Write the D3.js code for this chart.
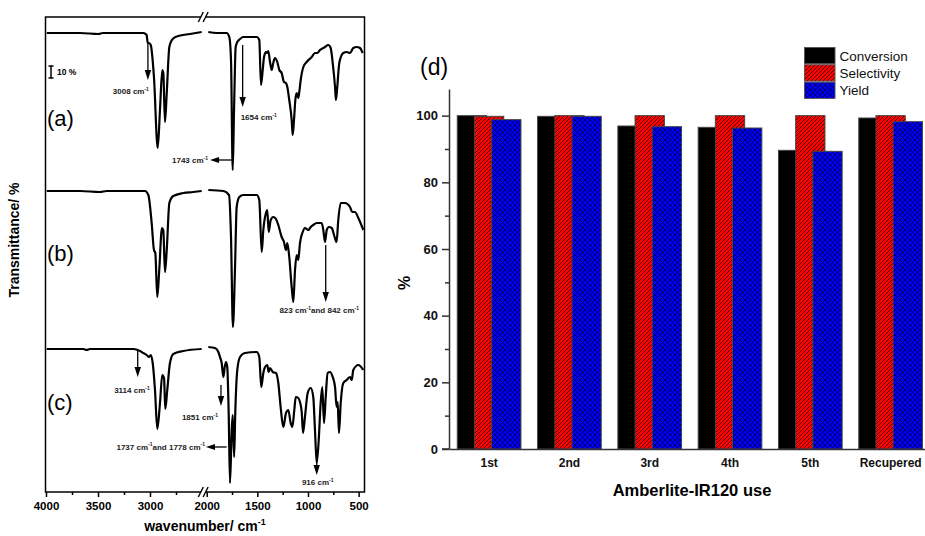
<!DOCTYPE html>
<html><head><meta charset="utf-8">
<script src="https://cdn.jsdelivr.net/npm/d3@7"></script>
<style>body{margin:0;background:#fff} text{font-family:"Liberation Sans",Arial,sans-serif}</style>
</head><body><svg id="c" width="925" height="536"></svg>
<script>
// ---------- DATA: FTIR spectra [wavenumber cm-1, offset transmittance (a.u.)] ----------
const spectrumA = [
[3993,459],[3673,459],[3497,458],[3452,459],[3064,459],[3032,457],[3022,449],[3010,449],[2993,447],[2962,415],[2926,344],[2904,382],[2882,422],[2872,419],[2856,370],[2839,399],[2814,445],[2782,453],[2728,456],[2615,458],[2503,460],
[1984,460],[1901,459],[1803,459],[1777,455],[1760,432],[1743,322],[1730,382],[1714,445],[1698,450],[1671,453],[1639,455],[1506,455],[1481,452],[1464,407],[1447,422],[1434,435],[1415,440],[1402,439],[1392,441],[1375,430],[1358,422],[1343,429],[1326,434],[1303,430],[1283,422],[1260,419],[1237,410],[1218,409],[1204,405],[1185,392],[1161,372],[1151,357],[1138,372],[1125,392],[1112,399],[1096,394],[1086,400],[1072,412],[1046,425],[1013,430],[963,435],[931,439],[908,439],[882,442],[832,445],[800,447],[776,444],[756,429],[733,405],[724,392],[711,405],[691,429],[652,439],[618,440],[585,439],[553,444],[519,445],[487,444],[460,439]
];
const spectrumB = [
[3993,301],[3673,301],[3481,300],[3416,301],[3048,301],[3016,297],[2984,269],[2962,242],[2949,239],[2930,195],[2911,222],[2885,264],[2872,262],[2856,220],[2839,242],[2814,289],[2776,296],[2680,299],[2584,300],[2503,301],
[1984,302],[1836,301],[1780,297],[1760,255],[1741,165],[1721,222],[1704,285],[1678,295],[1639,297],[1506,297],[1481,292],[1457,240],[1441,262],[1415,279],[1402,282],[1388,260],[1368,272],[1343,275],[1316,273],[1293,267],[1260,255],[1237,250],[1218,242],[1204,249],[1185,235],[1161,205],[1145,190],[1128,222],[1112,237],[1096,232],[1079,249],[1052,260],[1030,264],[997,262],[973,265],[948,267],[914,269],[865,269],[849,262],[832,250],[815,262],[793,265],[766,264],[737,255],[718,250],[701,272],[677,289],[635,289],[585,285],[563,280],[536,280],[503,274],[454,262]
];
const spectrumC = [
[3993,143],[3641,143],[3609,142],[3577,143],[3161,143],[3096,141],[3064,139],[3032,137],[3010,135],[2993,137],[2974,129],[2952,102],[2930,63],[2904,89],[2882,117],[2865,114],[2853,83],[2834,102],[2808,129],[2776,138],[2680,141],[2503,143],
[1984,145],[1918,144],[1885,140],[1869,135],[1852,129],[1836,115],[1822,125],[1809,130],[1797,125],[1783,79],[1770,9],[1753,62],[1743,77],[1729,35],[1718,79],[1698,122],[1671,135],[1622,139],[1506,140],[1481,135],[1461,105],[1441,119],[1424,125],[1402,127],[1388,120],[1375,124],[1348,120],[1316,119],[1293,109],[1270,85],[1244,65],[1217,79],[1194,82],[1171,69],[1155,65],[1135,82],[1121,95],[1096,94],[1079,90],[1062,80],[1049,59],[1030,75],[1003,99],[973,104],[948,95],[931,62],[914,29],[894,52],[875,89],[859,105],[842,69],[825,95],[806,119],[783,120],[756,115],[733,105],[717,85],[707,90],[694,59],[677,89],[651,109],[618,112],[585,115],[568,112],[553,122],[503,127],[454,122]
];
const wnMajorHigh = [4000, 3500, 3000];
const wnMinorHigh = [3750, 3250, 2750];
const wnMajorLow = [2000, 1500, 1000, 500];
const wnMinorLow = [1750, 1250, 750];
const scaleBarUnits = 12;   // length of the "10 %" bar in a.u.

// ---------- DATA: catalyst reuse ----------
const categories = ["1st", "2nd", "3rd", "4th", "5th", "Recupered"];
const seriesNames = ["Conversion", "Selectivity", "Yield"];
const conversion = [100, 99.8, 96.9, 96.5, 89.6, 99.3];
const selectivity = [99.8, 100, 100, 100, 100, 100];
const yieldValues = [98.8, 99.8, 96.7, 96.3, 89.3, 98.2];
const barMajorTicks = [0, 20, 40, 60, 80, 100];
const barMinorTicks = [10, 30, 50, 70, 90];

// ---------- DRAW ----------
const svg = d3.select("#c");
const defs = svg.append("defs");
const pr = defs.append("pattern").attr("id","hatchR").attr("patternUnits","userSpaceOnUse").attr("width",4).attr("height",4);
pr.append("rect").attr("width",4).attr("height",4).attr("fill","#ff0000");
pr.append("path").attr("d","M-1,1 l2,-2 M0,4 l4,-4 M3,5 l2,-2").attr("stroke","#000").attr("stroke-width",0.7);
const pb = defs.append("pattern").attr("id","hatchB").attr("patternUnits","userSpaceOnUse").attr("width",5).attr("height",5);
pb.append("rect").attr("width",5).attr("height",5).attr("fill","#0000ff");
pb.append("path").attr("d","M-1,1 l2,-2 M0,5 l5,-5 M4,6 l2,-2 M-1,4 l2,2 M0,0 l5,5 M4,-1 l2,2").attr("stroke","#000").attr("stroke-width",0.6);

// Left panel
const xHigh = d3.scaleLinear().domain([4000, 2500]).range([46, 202]);
const xLow = d3.scaleLinear().domain([2000, 450]).range([206.7, 363.7]);
const y = d3.scaleLinear().domain([0, 475]).range([492, 17]);
const L = svg.append("g");
L.append("rect").attr("x",45.5).attr("y",17).attr("width",319).attr("height",475)
  .attr("fill","none").attr("stroke","#000").attr("stroke-width",1.5);

function bottomAxis(scale, vals, size, labels) {
  const ax = d3.axisBottom(scale).tickValues(vals).tickSize(size).tickPadding(5)
    .tickFormat(labels ? d3.format("d") : "");
  const g = L.append("g").attr("transform","translate(0,492)").call(ax);
  g.select(".domain").remove();
  g.selectAll("line").attr("stroke","#000").attr("stroke-width",1.5);
  g.selectAll("text").attr("font-size",11.5).attr("font-weight","bold").attr("fill","#000")
    .style("font-family",'"Liberation Sans",Arial,sans-serif');
}
bottomAxis(xHigh, wnMajorHigh, 5, true);
bottomAxis(xHigh, wnMinorHigh, 3, false);
bottomAxis(xLow, wnMajorLow, 5, true);
bottomAxis(xLow, wnMinorLow, 3, false);

const lineGen = s => d3.line().x(d => s(d[0])).y(d => y(d[1])).curve(d3.curveMonotoneX);
[spectrumA, spectrumB, spectrumC].forEach(sp => {
  const hi = sp.filter(d => d[0] > 2250), lo = sp.filter(d => d[0] <= 2250);
  L.append("path").attr("d", lineGen(xHigh)(hi)).attr("fill","none").attr("stroke","#000").attr("stroke-width",2.2);
  L.append("path").attr("d", lineGen(xLow)(lo)).attr("fill","none").attr("stroke","#000").attr("stroke-width",2.2);
});

// axis break marks
[17, 492].forEach(y0 => {
  const a = 200.8, b = 205.6;
  L.append("polygon").attr("points",`${a-2.5},${y0+5} ${a+2.5},${y0-5} ${b+2.5},${y0-5} ${b-2.5},${y0+5}`).attr("fill","#fff");
  [a, b].forEach(cx => L.append("line").attr("x1",cx-2.5).attr("y1",y0+5).attr("x2",cx+2.5).attr("y2",y0-5)
    .attr("stroke","#000").attr("stroke-width",1.4));
});

// panel labels
[["(a)", 126],["(b)", 261],["(c)", 410]].forEach(([t, yy]) =>
  L.append("text").attr("x",47).attr("y",yy).attr("font-size",22).text(t));

// scale bar
const sbY = y(414);
L.append("path").attr("d",`M48.5,${sbY} h5 M51,${sbY} V${y(414+scaleBarUnits)} M48.5,${y(414+scaleBarUnits)} h5`)
  .attr("stroke","#000").attr("stroke-width",1.5).attr("fill","none");
L.append("text").attr("x",57).attr("y",75).attr("font-size",8.5).attr("font-weight","bold").text("10 %");

// annotations
function vArrow(x, v0, v1) {
  const y0 = y(v0), y1 = y(v1);
  L.append("line").attr("x1",x).attr("x2",x).attr("y1",y0).attr("y2",y1-8).attr("stroke","#000").attr("stroke-width",1.3);
  L.append("path").attr("d",`M${x-3.2},${y1-10} L${x+3.2},${y1-10} L${x},${y1} Z`).attr("fill","#000");
}
function hArrow(x0, x1, v) {
  const yy = y(v);
  L.append("line").attr("x1",x0).attr("x2",x1+7).attr("y1",yy).attr("y2",yy).attr("stroke","#000").attr("stroke-width",1.3);
  L.append("path").attr("d",`M${x1+9},${yy-3} L${x1+9},${yy+3} L${x1},${yy} Z`).attr("fill","#000");
}
// parts: array of [text, isSuperscript]
function note(x, yy, anchor, parts) {
  const t = L.append("text").attr("x",x).attr("y",yy).attr("text-anchor",anchor)
    .attr("font-size",8).attr("font-weight","bold").attr("fill","#222");
  let prevSup = false;
  parts.forEach(([txt, sup]) => {
    const ts = t.append("tspan").text(txt);
    if (sup) ts.attr("font-size",5).attr("dy",-3.5);
    else if (prevSup) ts.attr("dy",3.5);
    prevSup = sup;
  });
}
const cm = n => [[n + " cm", false], ["-1", true]];
// (a)
vArrow(xHigh(3020), 449, 412); note(xHigh(3020)+1, 94, "end", cm("3008"));
hArrow(xLow(1753), xLow(1967), 332); note(xLow(1967)-2, 163, "end", cm("1743"));
vArrow(xLow(1645), 447, 385); note(xLow(1645)-2, 120, "start", cm("1654"));
// (b)
vArrow(xLow(825), 247, 190); note(xLow(825)-6.5, 313, "middle", [...cm("823"), ["and 842 cm", false], ["-1", true]]);
// (c)
vArrow(xHigh(3118), 142, 115); note(xHigh(3118)+12, 393, "end", cm("3114"));
vArrow(xLow(1859), 107, 86); note(xLow(1859)-3, 420, "end", cm("1851"));
hArrow(xLow(1803), xLow(2007), 45); note(xLow(2007)-1, 449.5, "end", [...cm("1737"), ["and 1778 cm", false], ["-1", true]]);
vArrow(xLow(914), 39, 17); note(xLow(914)+1, 485, "middle", cm("916"));

// axis titles (left)
const tx = L.append("text").attr("x",205).attr("y",531).attr("text-anchor","middle").attr("font-size",14).attr("font-weight","bold");
tx.append("tspan").text("wavenumber/ cm");
tx.append("tspan").text("-1").attr("font-size",9).attr("dy",-6);
L.append("text").attr("transform","translate(19,240) rotate(-90)").attr("text-anchor","middle")
  .attr("font-size",14).attr("font-weight","bold").text("Transmittance/ %");

// ---------- Bar chart ----------
const R = svg.append("g");
const yb = d3.scaleLinear().domain([0, 108]).range([449, 89]);
const xb = d3.scaleBand().domain(categories).range([449, 930.8]).padding(0);
const step = xb.step();
const barW = step * 0.365, shift = step * 0.214, startOff = -step * 0.397;
const series = [conversion, selectivity, yieldValues];
const fills = ["#000", "url(#hatchR)", "url(#hatchB)"];
series.forEach((vals, si) => {
  R.append("g").selectAll("rect").data(categories).join("rect")
    .attr("x", c => xb(c) + step/2 + startOff + si*shift)
    .attr("y", (c, i) => yb(vals[i]))
    .attr("width", barW)
    .attr("height", (c, i) => yb(0) - yb(vals[i]))
    .attr("fill", fills[si]).attr("stroke","#444").attr("stroke-width",1);
});

const yAx = R.append("g").attr("transform","translate(449,0)")
  .call(d3.axisLeft(yb).tickValues(barMajorTicks).tickSize(7).tickSizeOuter(0).tickPadding(4));
yAx.select(".domain").attr("stroke","#333").attr("stroke-width",1.5);
yAx.selectAll("line").attr("stroke","#333").attr("stroke-width",1.5);
yAx.selectAll("text").attr("font-size",13).attr("font-weight","bold").attr("fill","#111")
  .style("font-family",'"Liberation Sans",Arial,sans-serif');
const yMin = R.append("g").attr("transform","translate(449,0)")
  .call(d3.axisLeft(yb).tickValues(barMinorTicks).tickSize(4).tickFormat(""));
yMin.select(".domain").remove();
yMin.selectAll("line").attr("stroke","#333").attr("stroke-width",1.5);

const xAx = R.append("g").attr("transform","translate(0,449)")
  .call(d3.axisBottom(xb).tickSize(0).tickSizeOuter(0).tickPadding(9.5));
xAx.select(".domain").attr("stroke","#333").attr("stroke-width",1.5);
xAx.selectAll("text").attr("font-size",12).attr("font-weight","bold").attr("fill","#111")
  .style("font-family",'"Liberation Sans",Arial,sans-serif');
R.append("line").attr("x1",442).attr("x2",449).attr("y1",449).attr("y2",449).attr("stroke","#333").attr("stroke-width",1.5);

R.append("text").attr("x",692).attr("y",496).attr("text-anchor","middle").attr("font-size",16.5).attr("font-weight","bold").text("Amberlite-IR120 use");
R.append("text").attr("transform","translate(410,283) rotate(-90)").attr("text-anchor","middle").attr("font-size",16).attr("font-weight","bold").text("%");
R.append("text").attr("x",420).attr("y",75).attr("font-size",23).text("(d)");

// legend
const lg = R.append("g");
seriesNames.forEach((n, i) => {
  lg.append("rect").attr("x",804.5).attr("y",47.5 + i*17.3).attr("width",30.5).attr("height",16.3)
    .attr("fill",fills[i]).attr("stroke","#555").attr("stroke-width",1);
  lg.append("text").attr("x",839.5).attr("y",60.5 + i*17.3).attr("font-size",13.5).attr("fill","#111").text(n);
});
</script></body></html>
